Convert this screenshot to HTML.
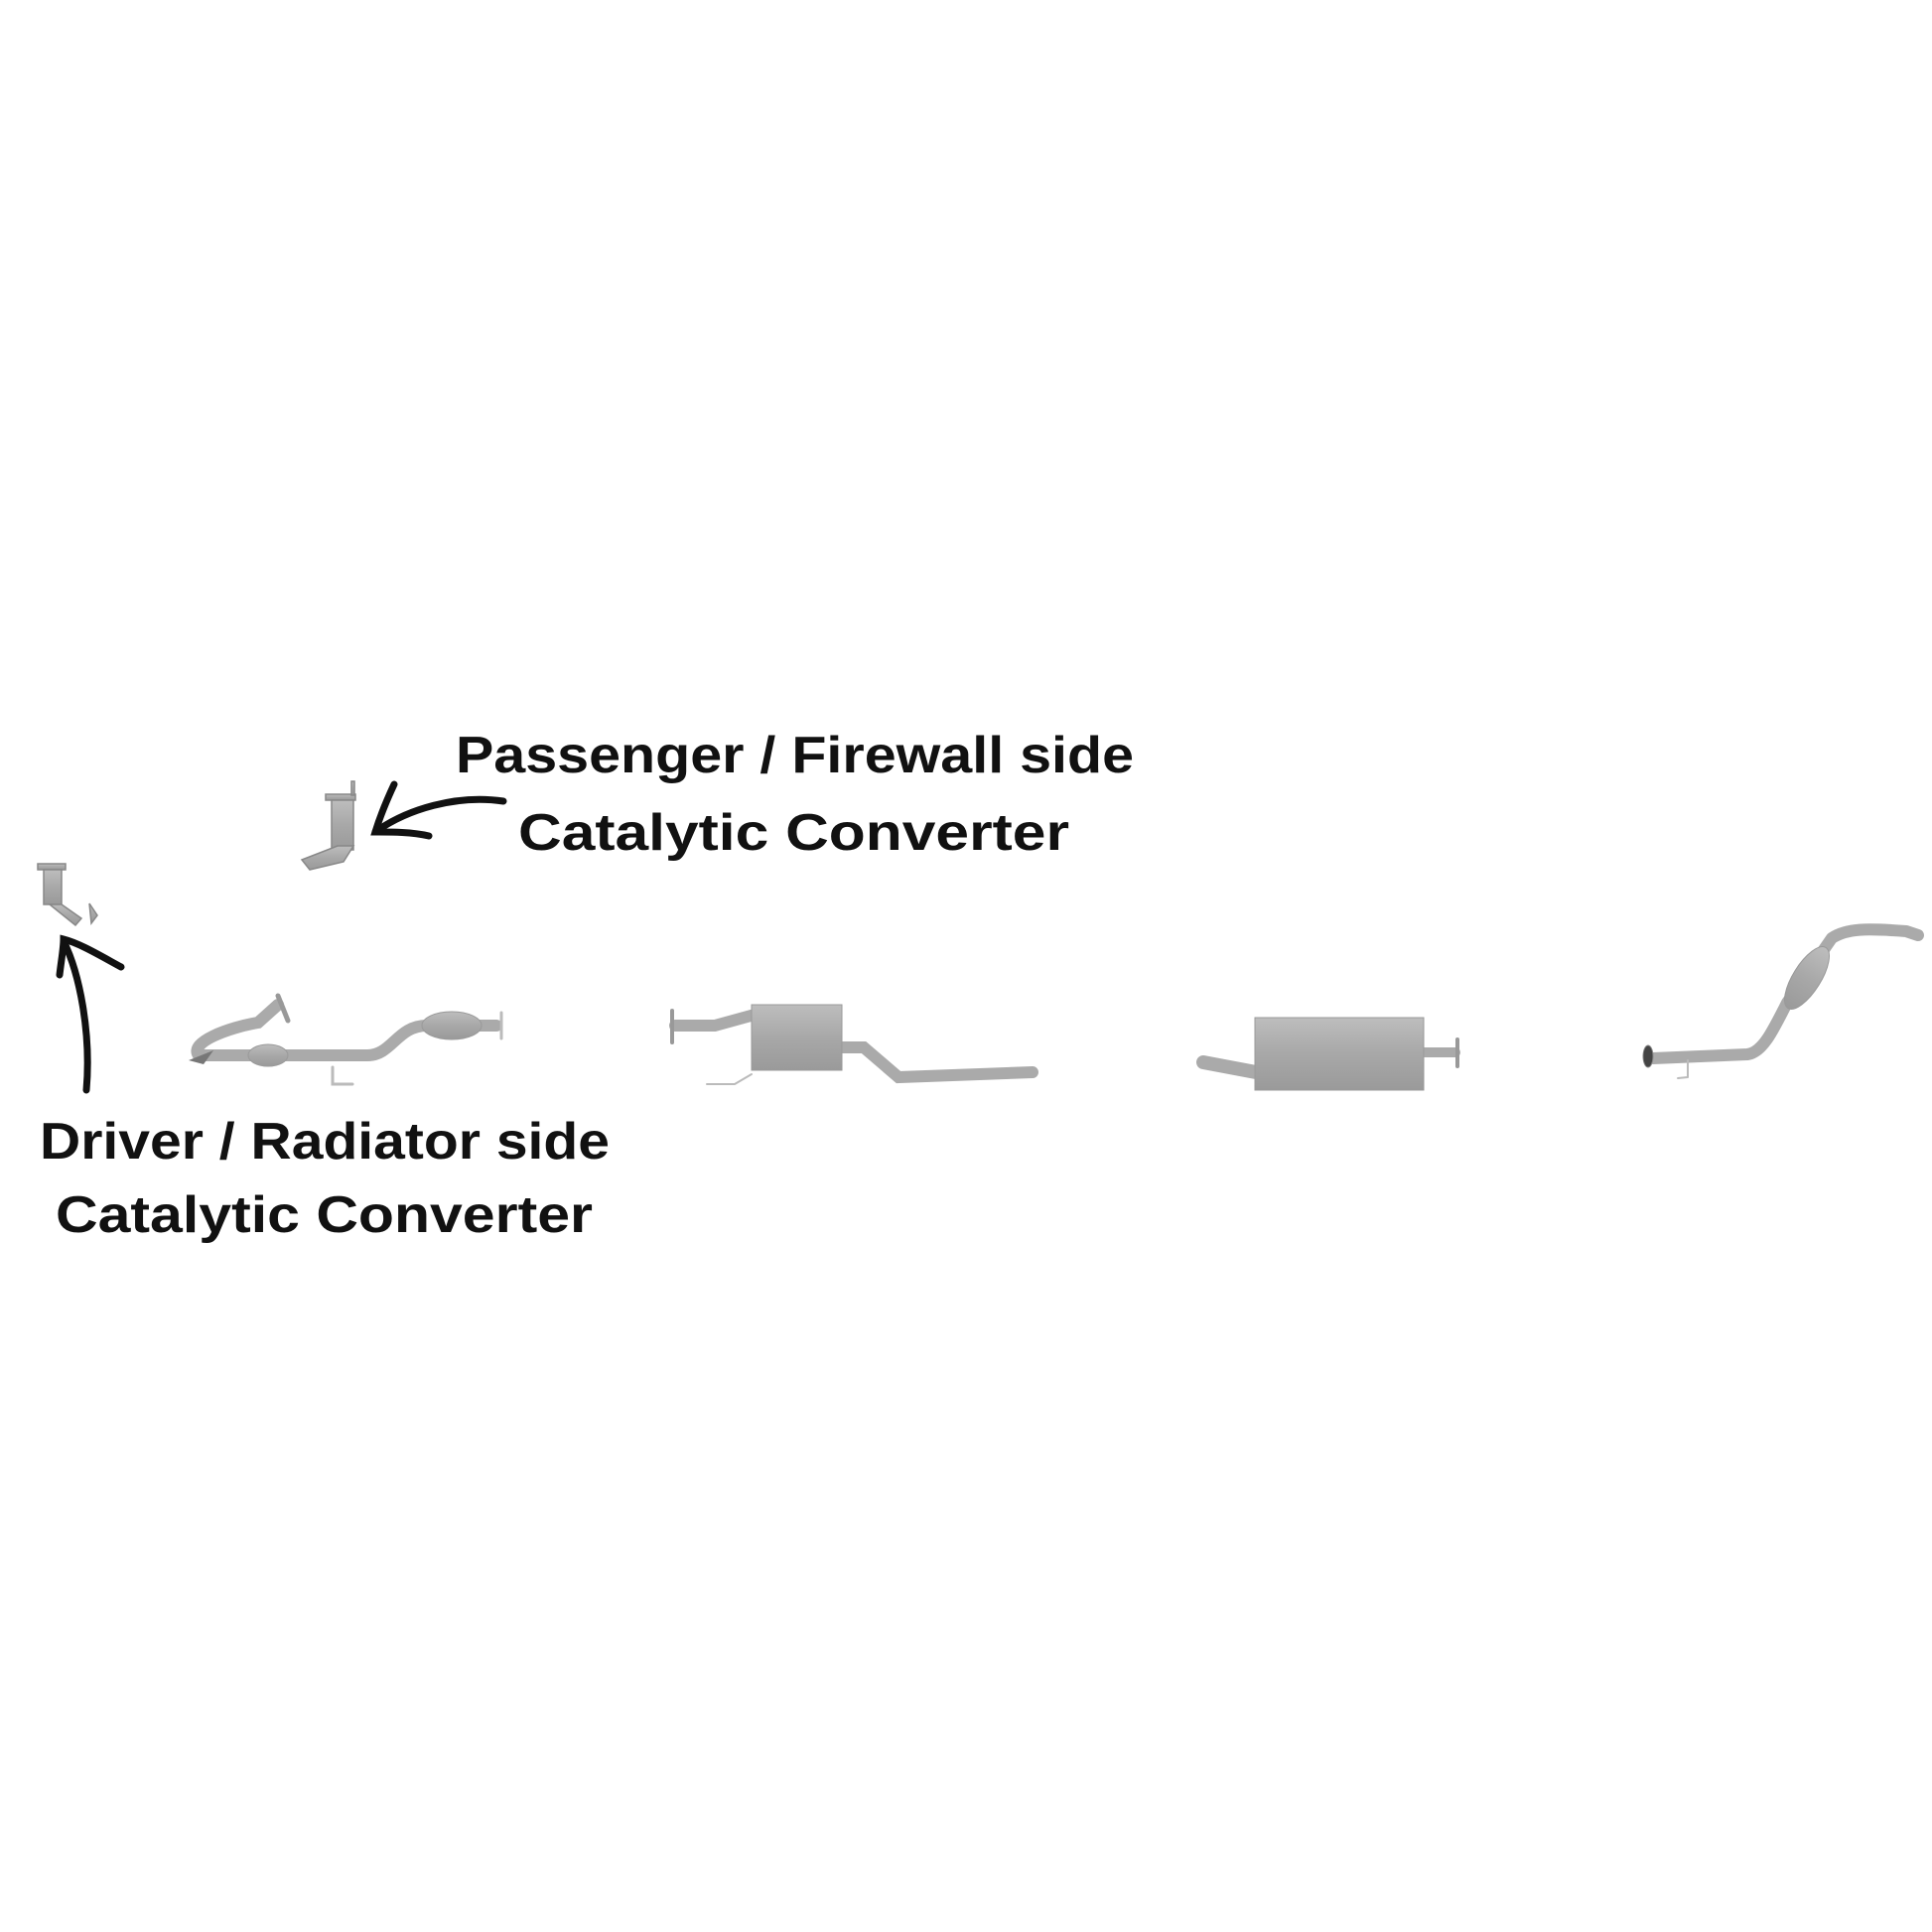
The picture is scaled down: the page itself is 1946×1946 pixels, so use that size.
<!DOCTYPE html>
<html><head><style>html,body{margin:0;padding:0;background:#fff}svg{display:block}</style></head>
<body>
<svg width="1946" height="1946" viewBox="0 0 1946 1946" xmlns="http://www.w3.org/2000/svg">
<defs>
<linearGradient id="g" x1="0" y1="0" x2="0" y2="1"><stop offset="0" stop-color="#bdbdbd"/><stop offset="0.5" stop-color="#a8a8a8"/><stop offset="1" stop-color="#9a9a9a"/></linearGradient>
</defs>
<g font-family="Liberation Sans, sans-serif" font-weight="bold" font-size="52" fill="#111">
<text x="459" y="778" textLength="683" lengthAdjust="spacingAndGlyphs">Passenger / Firewall side</text>
<text x="522" y="856" textLength="555" lengthAdjust="spacingAndGlyphs">Catalytic Converter</text>
<text x="40" y="1167" textLength="574" lengthAdjust="spacingAndGlyphs">Driver / Radiator side</text>
<text x="56" y="1241" textLength="541" lengthAdjust="spacingAndGlyphs">Catalytic Converter</text>
</g>
<!-- arrows -->
<g fill="none" stroke="#111" stroke-width="7" stroke-linecap="round">
<path d="M87 1098 C92 1040 80 980 64 948"/>
<path d="M60 982 C62 965 64 955 64 946 C80 950 100 962 122 974"/>
<path d="M507 807 C460 800 410 815 378 838"/>
<path d="M397 790 C390 805 382 825 378 838 C395 838 415 838 432 842"/>
</g>
<!-- driver cat -->
<g fill="url(#g)" stroke="#888" stroke-width="1.5">
<rect x="38" y="870" width="28" height="6"/>
<rect x="44" y="876" width="18" height="35"/>
<path d="M50 911 L62 911 L82 925 L76 932 Z"/>
<path d="M90 910 L98 922 L92 930 Z"/>
</g>
<!-- passenger cat -->
<g fill="url(#g)" stroke="#888" stroke-width="1.5">
<rect x="328" y="800" width="30" height="6"/>
<rect x="334" y="806" width="22" height="50"/>
<path d="M340 852 L356 852 L346 868 L312 876 L304 866 Z"/>
<rect x="354" y="787" width="3" height="14"/>
</g>
<!-- front pipe -->
<g fill="none" stroke-linecap="round">
<path d="M200 1063 L370 1063 C395 1063 400 1033 430 1033 L500 1033" stroke="#aaa" stroke-width="12"/>
<path d="M200 1063 C190 1050 230 1035 260 1030 L280 1012" stroke="#aaa" stroke-width="12"/>
<ellipse cx="455" cy="1033" rx="30" ry="14" fill="url(#g)" stroke="#999"/>
<ellipse cx="270" cy="1063" rx="20" ry="11" fill="url(#g)" stroke="#999"/>
<path d="M190 1068 L215 1058 L205 1072 Z" fill="#777"/>
<path d="M280 1003 L290 1028" stroke="#999" stroke-width="5"/>
<path d="M335 1075 L335 1092 L355 1092" stroke="#bbb" stroke-width="3"/>
<path d="M505 1020 L505 1046" stroke="#bbb" stroke-width="3"/>
</g>
<!-- muffler 1 -->
<g fill="none" stroke-linecap="round">
<path d="M680 1033 L720 1033 L760 1022" stroke="#aaa" stroke-width="12"/>
<path d="M845 1055 L870 1055 L905 1085 L1040 1080" stroke="#aaa" stroke-width="12"/>
<rect x="757" y="1012" width="91" height="66" fill="url(#g)" stroke="#999"/>
<path d="M677 1018 L677 1050" stroke="#999" stroke-width="4"/>
<path d="M712 1092 L740 1092 L757 1082" stroke="#bbb" stroke-width="2"/>
</g>
<!-- muffler 2 -->
<g fill="none" stroke-linecap="round">
<path d="M1212 1070 L1265 1080" stroke="#aaa" stroke-width="14"/>
<path d="M1430 1060 L1466 1060" stroke="#aaa" stroke-width="10"/>
<rect x="1264" y="1025" width="170" height="73" fill="url(#g)" stroke="#999"/>
<path d="M1468 1047 L1468 1074" stroke="#999" stroke-width="4"/>
</g>
<!-- tail pipe with resonator -->
<g fill="none" stroke-linecap="round" stroke-linejoin="round">
<path d="M1665 1066 L1760 1062 C1775 1060 1785 1040 1800 1010 L1845 945 C1860 935 1880 935 1920 938 L1932 942" stroke="#aaa" stroke-width="12"/>
<ellipse cx="1820" cy="985" rx="14" ry="36" transform="rotate(32 1820 985)" fill="url(#g)" stroke="#999"/>
<ellipse cx="1660" cy="1064" rx="5" ry="11" fill="#444" stroke="#888"/>
<path d="M1700 1068 L1700 1085 L1690 1086" stroke="#bbb" stroke-width="2"/>
</g>
</svg>
</body></html>
